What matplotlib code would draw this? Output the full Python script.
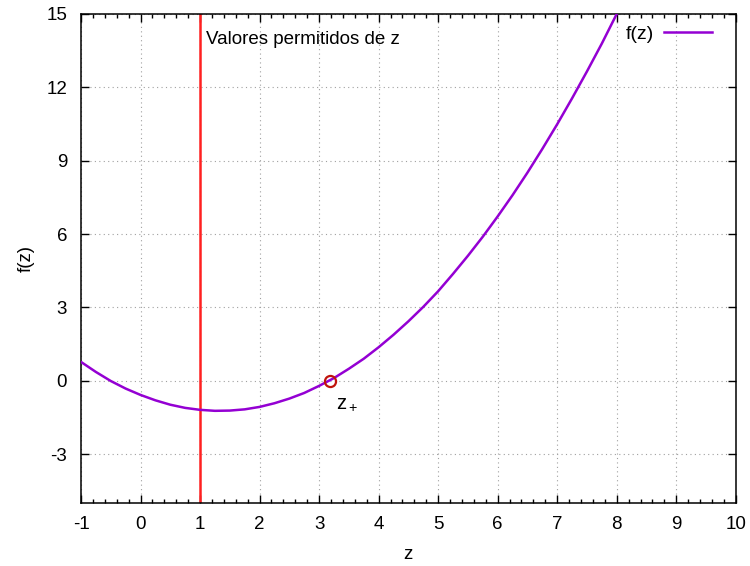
import matplotlib
matplotlib.use("Agg")
import matplotlib.pyplot as plt
from matplotlib.ticker import AutoMinorLocator

plt.rcParams['font.family'] = ['Liberation Sans', 'DejaVu Sans']
plt.rcParams['axes.unicode_minus'] = False

# f(z) sampled along z
z_vals = [-1.0, -0.75, -0.5, -0.25, 0.0, 0.25, 0.5, 0.75, 1.0, 1.25, 1.5,
          1.75, 2.0, 2.25, 2.5, 2.75, 3.0, 3.25, 3.5, 3.75, 4.0, 4.25, 4.5,
          4.75, 5.0, 5.25, 5.5, 5.75, 6.0, 6.25, 6.5, 6.75, 7.0, 7.25, 7.5,
          7.75, 8.0]
f_vals = [0.77, 0.36, -0.01, -0.32, -0.58, -0.80, -0.98, -1.11, -1.19, -1.23,
          -1.22, -1.17, -1.07, -0.92, -0.73, -0.50, -0.21, 0.11, 0.49, 0.90,
          1.37, 1.88, 2.43, 3.02, 3.66, 4.37, 5.11, 5.89, 6.72, 7.59, 8.51,
          9.48, 10.49, 11.55, 12.65, 13.79, 15.00]

z_min_allowed = 1.0          # lower bound of allowed z
z_plus = 3.18                # root of f
x_ticks = list(range(-1, 11))
y_ticks = [-3, 0, 3, 6, 9, 12, 15]

fig = plt.figure(figsize=(7.5, 5.66), dpi=100)
ax = fig.add_axes([0.108, 0.1113, 0.873, 0.8640])

ax.plot(z_vals, f_vals, color='#9400d3', lw=1.8, label='f(z)', zorder=3,
        solid_joinstyle='round')
ax.axvline(z_min_allowed, color='#ff2020', lw=1.8, zorder=2)
ax.plot([z_plus], [0], marker='o', ms=8, mfc='none', mec='#c0140c', mew=1.6,
        ls='none', zorder=4)

ax.text(1.1, 13.95, 'Valores permitidos de z', fontsize=13.5, va='center', ha='left')
ax.text(3.28, -0.95, r'$\mathregular{z_+}$', fontsize=14.5, va='center', ha='left')

ax.set_xlim(-1, 10)
ax.set_ylim(-5, 15)
ax.set_xticks(x_ticks)
ax.set_yticks(y_ticks)
ax.xaxis.set_minor_locator(AutoMinorLocator(5))
ax.tick_params(which='both', direction='in', top=True, right=True, labelsize=13.5)
ax.tick_params(which='major', length=6, width=1)
ax.tick_params(which='minor', length=3, width=1)
ax.tick_params(axis='x', pad=9)
ax.tick_params(axis='y', pad=10)
ax.grid(True, which='major', color='#a0a0a0', ls=(0, (1, 3)), lw=0.8)

ax.set_xlabel('z', fontsize=13.5, labelpad=10)
ax.set_ylabel('f(z)', fontsize=13.5, labelpad=8)

for s in ax.spines.values():
    s.set_linewidth(1.1)

leg = ax.legend(loc='upper right', frameon=False, fontsize=14, handlelength=2.5,
                markerfirst=False, bbox_to_anchor=(0.976, 0.992),
                borderaxespad=0.0, handletextpad=0.5)

fig.savefig('out.png', dpi=100)
